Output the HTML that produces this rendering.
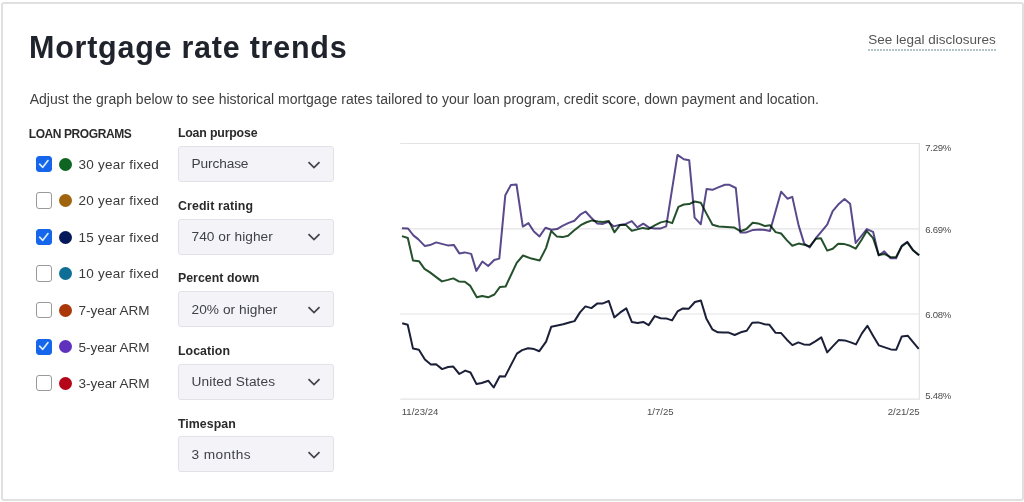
<!DOCTYPE html>
<html><head><meta charset="utf-8">
<style>
*{box-sizing:border-box;margin:0;padding:0}
html,body{width:1024px;height:502px;overflow:hidden;background:#fff;font-family:"Liberation Sans",sans-serif;color:#333}
.card{position:absolute;left:0.8px;top:1.9px;width:1023.2px;height:499.3px;border:2px solid #e0e0e0;border-radius:3px}
.t{position:absolute;white-space:nowrap;line-height:1}
.title{font-size:30.5px;font-weight:bold;color:#1f232c;letter-spacing:0.75px}
.legal{font-size:13.5px;color:#555}
.uline{position:absolute;left:868px;top:49px;width:128px;height:2px;background:repeating-linear-gradient(90deg,#b3c3ca 0 2px,transparent 2px 3px)}
.sub{font-size:14px;color:#404040;letter-spacing:0.02px}
.lp{font-size:12px;font-weight:bold;color:#2a2a2a;letter-spacing:-0.42px}
.cb{position:absolute;left:36px;width:16px;height:16.4px;border-radius:3px;border:1.2px solid #999;background:#fff}
.cb.on{background:#1666ec;border-color:#1666ec}
.cb svg{position:absolute;left:-1.2px;top:-1.2px}
.dot{position:absolute;left:59.2px;width:13px;height:13px;border-radius:50%}
.lbl{font-size:13.5px;color:#3a3a3a}
.fl{font-size:12.35px;font-weight:bold;color:#2a2a2a}
.sel{position:absolute;left:177.5px;width:156px;height:36px;border:1px solid #e1e1e8;border-radius:3px;background:#f4f4f8}
.sel span{position:absolute;left:13px;top:10.3px;font-size:13.7px;color:#40404a;white-space:nowrap;line-height:1}
.sel svg{position:absolute;left:128px;top:13.6px}
.ax{font-size:9.6px;color:#4d4d4d}
</style></head><body>
<div class="card"></div>
<div class="t title" style="left:29px;top:31.68px">Mortgage rate trends</div>
<div class="t legal" style="left:868.2px;top:32.77px">See legal disclosures</div><div class="uline"></div>
<div class="t sub" style="left:29.7px;top:91.95px">Adjust the graph below to see historical mortgage rates tailored to your loan program, credit score, down payment and location.</div>
<div class="t lp" style="left:28.8px;top:127.74px">LOAN PROGRAMS</div>
<div class="cb on" style="top:155.80px"><svg width="16" height="16" viewBox="0 0 16 16"><path d="M3.6 8.2 L6.8 11.3 L12 4.6" fill="none" stroke="#dcefff" stroke-width="1.65" stroke-linecap="round" stroke-linejoin="round"/></svg></div>
<div class="dot" style="top:157.70px;background:#0e6522"></div>
<div class="t lbl" style="left:78.5px;top:157.77px;letter-spacing:0.25px">30 year fixed</div>
<div class="cb" style="top:192.35px"></div>
<div class="dot" style="top:194.25px;background:#a0640f"></div>
<div class="t lbl" style="left:78.5px;top:194.32px;letter-spacing:0.25px">20 year fixed</div>
<div class="cb on" style="top:228.90px"><svg width="16" height="16" viewBox="0 0 16 16"><path d="M3.6 8.2 L6.8 11.3 L12 4.6" fill="none" stroke="#dcefff" stroke-width="1.65" stroke-linecap="round" stroke-linejoin="round"/></svg></div>
<div class="dot" style="top:230.80px;background:#05195a"></div>
<div class="t lbl" style="left:78.5px;top:230.87px;letter-spacing:0.25px">15 year fixed</div>
<div class="cb" style="top:265.45px"></div>
<div class="dot" style="top:267.35px;background:#0f6e96"></div>
<div class="t lbl" style="left:78.5px;top:267.42px;letter-spacing:0.25px">10 year fixed</div>
<div class="cb" style="top:302.00px"></div>
<div class="dot" style="top:303.90px;background:#aa370a"></div>
<div class="t lbl" style="left:78.5px;top:303.97px;letter-spacing:-0.03px">7-year ARM</div>
<div class="cb on" style="top:338.55px"><svg width="16" height="16" viewBox="0 0 16 16"><path d="M3.6 8.2 L6.8 11.3 L12 4.6" fill="none" stroke="#dcefff" stroke-width="1.65" stroke-linecap="round" stroke-linejoin="round"/></svg></div>
<div class="dot" style="top:340.45px;background:#5f32be"></div>
<div class="t lbl" style="left:78.5px;top:340.52px;letter-spacing:-0.03px">5-year ARM</div>
<div class="cb" style="top:375.10px"></div>
<div class="dot" style="top:377.00px;background:#b40519"></div>
<div class="t lbl" style="left:78.5px;top:377.07px;letter-spacing:-0.03px">3-year ARM</div>
<div class="t fl" style="left:177.9px;top:127.05px;letter-spacing:-0.18px">Loan purpose</div>
<div class="sel" style="top:146.00px"><span style="letter-spacing:-0.12px">Purchase</span><svg width="14" height="8" viewBox="0 0 14 8"><path d="M1.5 1.2 L7 6.6 L12.5 1.2" fill="none" stroke="#454550" stroke-width="1.8"/></svg></div>
<div class="t fl" style="left:177.9px;top:199.67px;letter-spacing:0.14px">Credit rating</div>
<div class="sel" style="top:218.62px"><span style="letter-spacing:0.05px">740 or higher</span><svg width="14" height="8" viewBox="0 0 14 8"><path d="M1.5 1.2 L7 6.6 L12.5 1.2" fill="none" stroke="#454550" stroke-width="1.8"/></svg></div>
<div class="t fl" style="left:177.9px;top:272.29px;letter-spacing:0.05px">Percent down</div>
<div class="sel" style="top:291.24px"><span style="letter-spacing:0.05px">20% or higher</span><svg width="14" height="8" viewBox="0 0 14 8"><path d="M1.5 1.2 L7 6.6 L12.5 1.2" fill="none" stroke="#454550" stroke-width="1.8"/></svg></div>
<div class="t fl" style="left:177.9px;top:344.91px;letter-spacing:0.09px">Location</div>
<div class="sel" style="top:363.86px"><span style="letter-spacing:0.12px">United States</span><svg width="14" height="8" viewBox="0 0 14 8"><path d="M1.5 1.2 L7 6.6 L12.5 1.2" fill="none" stroke="#454550" stroke-width="1.8"/></svg></div>
<div class="t fl" style="left:177.9px;top:417.53px;letter-spacing:0.06px">Timespan</div>
<div class="sel" style="top:436.48px"><span style="letter-spacing:0.4px">3 months</span><svg width="14" height="8" viewBox="0 0 14 8"><path d="M1.5 1.2 L7 6.6 L12.5 1.2" fill="none" stroke="#454550" stroke-width="1.8"/></svg></div>
<svg style="position:absolute;left:0;top:0" width="1024" height="502">
<g stroke="#e3e3e3" stroke-width="1.2">
<line x1="400.3" y1="143.5" x2="919.5" y2="143.5"/>
<line x1="400.3" y1="228.8" x2="919.5" y2="228.8"/>
<line x1="400.3" y1="314" x2="919.5" y2="314"/>
<line x1="400.3" y1="399.2" x2="919.5" y2="399.2"/>
<line x1="919.3" y1="143" x2="919.3" y2="399.8"/>
</g>
<polyline fill="none" stroke="#24502c" stroke-width="2" stroke-linejoin="round" points="402,236.1 407.8,238 413,260.6 419,261.2 424.5,268.9 430,272.4 435.9,276.9 441.9,281.4 447.9,279.9 453.3,278.4 458.8,281.4 464.8,281.7 470.3,285.9 476.8,297.3 482.2,296 488.2,297.3 494.4,294.5 500,286.9 505.6,286.5 516.7,262.8 523,255.5 531.4,258.6 539.7,260.4 546,248.1 551.2,231 557,236.6 562.5,237.1 568.1,235.7 573.7,230.8 580.7,225.2 586,222.5 592,220.4 598,221.4 602.9,221.9 608.9,221.1 614.4,232.3 619.9,225.1 625.8,224.9 631.8,230.7 637.3,229.4 642.8,227.9 648.7,228.9 654.7,225.4 660.7,222.4 666.2,221.1 672.2,223.1 678.4,206.8 683.8,204.5 689.2,204.1 694.6,201.5 700.8,202.7 706.2,213.1 712.5,224.7 718.8,226.5 726.8,226.9 734,227.4 740.3,231.2 746.4,229 752.7,222.8 758.1,223.4 765.1,226.1 770,225.2 775.6,232.1 781.1,233.5 786.7,240.1 792.3,245.7 798.6,243.6 804.2,244.7 809.7,246.4 816,238.7 820.9,238.3 827.2,250.6 832.7,248.8 838.2,243.7 844.5,244.1 850.1,245.8 855.7,248.6 861.3,240.2 866.8,231.1 873.1,238.1 878.7,254.9 884.3,253.9 890.6,257.2 896.1,256.9 901.7,246.5 907.3,242.3 912.9,250.2 919.1,255.3"/>
<polyline style="mix-blend-mode:multiply" fill="none" stroke="#5a4a8c" stroke-width="2" stroke-linejoin="round" points="402,228.2 408,228.5 413.4,235.4 418.4,239.4 424.9,246.1 429.9,245.1 436.3,242.4 441.8,243.9 447.8,245.4 453.8,244.9 459.3,253.4 464.7,252.4 471.2,253.9 476.3,270.9 482.4,261.5 488.2,266 494.2,260 499.3,258.6 505.3,195.2 510.9,185 516.5,184.5 522.8,226.6 528.4,223.1 533.9,231.5 539.5,236.4 545.5,227.7 551.4,229.7 557,229.1 562.5,225.9 568.1,223.1 574.4,220.7 580.7,214.3 585.5,211.5 591,217.5 597,223.4 602.9,223.9 608.4,221.9 613.9,226.4 619.4,224.9 625.8,223.9 631.8,221.1 637.3,227.4 643.3,223.7 649.2,227.7 654.7,228.4 660.7,228.4 666.2,226.4 677.5,154.9 683.8,159.3 689.2,160.2 694.6,217.6 700.8,224.2 706.6,188.9 712.5,189.8 718.8,187.1 725,184.8 729.5,184.8 735.8,188 740.3,232.5 746.3,232.4 753.2,229.9 759.5,229.4 765.1,229.9 770,231 781.1,191.7 787.4,198.7 792.3,196.9 798.6,225.4 804.2,243.6 809.7,247.5 816,238 821.6,231.3 827.2,224.7 832.7,211.2 838.2,204.6 844.5,199.1 850.1,203.7 855.7,243 861.3,236 866.8,229.1 873.1,231.8 878.7,255.5 884.3,251.4 890.6,258.3 896.1,258.3 901.7,245.8 907.3,241.9 912.9,250 919.1,255.3"/>
<polyline fill="none" stroke="#1b2038" stroke-width="2" stroke-linejoin="round" points="402.2,323.2 407.7,324.7 413,348.6 418.9,349.7 424.9,359.5 430.9,364.6 436.1,364.3 442.1,369.1 448.1,367 453.3,366.6 459.3,374 465.3,370.6 470.5,372.5 476.5,384.1 481.7,383 488.4,380.8 493.7,387.5 499.7,376.3 505,376.6 510.9,365.1 516.9,353.6 522.1,350.1 528.1,348.2 534.1,349.1 539.3,351.2 546.1,341.6 551.3,326.7 557.3,325.5 563.2,324.3 569.2,322.5 574.5,321.1 580,312.4 585.4,306.4 591.4,308.1 597.4,303.4 602.9,303.4 608.8,301 614.3,317.4 620.3,312.4 626.3,308.4 631.8,321.9 637.7,322.9 643.2,321.9 648.7,325.1 654.7,316.1 660.6,318.2 666.1,318.4 672,320.4 677.5,311.4 682.9,308.4 688.9,308.7 694.9,302 700.9,300.5 706.3,318.4 712.3,329.3 717.8,332.3 723.3,332.6 728.7,332.6 734.7,335 740.7,332.3 746.7,330.8 752.2,322.7 758.1,322.4 764.5,324.2 769.5,324.8 775.4,332.7 780.9,332.9 786.9,339.7 792.4,345.1 798.3,342.4 803.8,344.4 809.8,344.7 815.3,341.4 821.3,337.4 827.2,352.4 833.2,345.9 838.7,340.1 844.7,340.4 850.1,342.1 856,344.4 861.9,333.4 867.4,325.8 872.9,335.4 878.9,345.4 884.8,347.4 890.8,349.4 896.3,349.7 901.8,336.4 907.7,335.7 913.7,342.9 918.7,348.9"/>
</svg>
<div class="t ax" style="left:925.2px;top:143.17px;letter-spacing:-0.25px">7.29%</div>
<div class="t ax" style="left:925.2px;top:224.57px;letter-spacing:-0.25px">6.69%</div>
<div class="t ax" style="left:925.2px;top:309.57px;letter-spacing:-0.25px">6.08%</div>
<div class="t ax" style="left:925.2px;top:390.97px;letter-spacing:-0.25px">5.48%</div>
<div class="t ax" style="left:401.7px;top:406.87px">11/23/24</div>
<div class="t ax" style="left:646.9px;top:406.87px">1/7/25</div>
<div class="t ax" style="left:887.7px;top:406.87px">2/21/25</div>
</body></html>
